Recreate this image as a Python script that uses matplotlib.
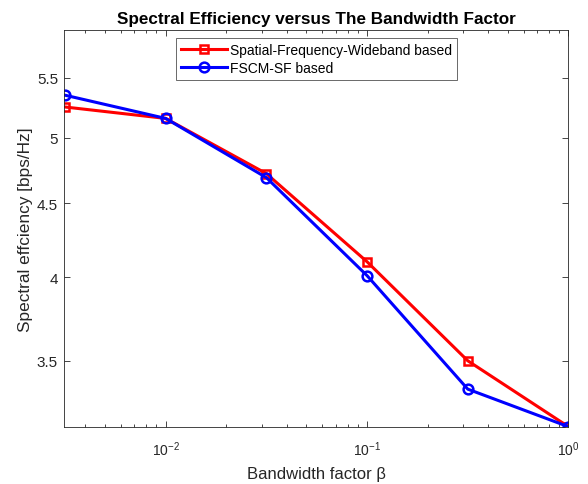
import matplotlib
matplotlib.use("Agg")
import matplotlib.pyplot as plt
from matplotlib.ticker import FixedLocator, FixedFormatter, NullLocator, LogLocator

plt.rcParams['font.family'] = ['Liberation Sans', 'DejaVu Sans']
plt.rcParams['axes.unicode_minus'] = False
plt.rcParams['mathtext.fontset'] = 'custom'
plt.rcParams['mathtext.rm'] = 'Liberation Sans'
plt.rcParams['mathtext.it'] = 'Liberation Sans:italic'
plt.rcParams['mathtext.bf'] = 'Liberation Sans:bold'

beta = [10**-2.5, 10**-2, 10**-1.5, 10**-1, 10**-0.5, 1.0]
sfw = [5.25, 5.155, 4.72, 4.10, 3.50, 3.15]
fscm = [5.35, 5.155, 4.69, 4.01, 3.345, 3.15]
yticks = [3.5, 4, 4.5, 5, 5.5]
ytick_labels = ['3.5', '4', '4.5', '5', '5.5']

fig = plt.figure(figsize=(5.88, 4.85), dpi=100)
ax = fig.add_axes([0.1094, 0.1181, 0.9668 - 0.1094, 0.9367 - 0.1181])

ax.plot(beta, sfw, color='#ff0000', lw=2.2, marker='s', ms=5.5, mfc='none',
        mec='#ff0000', mew=1.8, label='Spatial-Frequency-Wideband based')
ax.plot(beta, fscm, color='#0000ff', lw=2.2, marker='o', ms=7, mfc='none',
        mec='#0000ff', mew=1.8, label='FSCM-SF based')

ax.set_xscale('log')
ax.set_yscale('log')
ax.set_xlim(10**-2.503, 1.0)
ax.set_ylim(3.15, 5.94)

ax.yaxis.set_major_locator(FixedLocator(yticks))
ax.yaxis.set_major_formatter(FixedFormatter(ytick_labels))
ax.yaxis.set_minor_locator(NullLocator())
ax.xaxis.set_major_locator(LogLocator(base=10, numticks=10))
ax.xaxis.set_minor_locator(LogLocator(base=10, subs=range(2, 10), numticks=20))

gray = '#262626'
for s in ax.spines.values():
    s.set_color('#262626')
    s.set_linewidth(0.6)
ax.tick_params(which='both', direction='in', top=True, right=True,
               colors=gray, labelcolor=gray)
ax.tick_params(which='major', length=4.5, width=0.6)
ax.tick_params(which='minor', length=2.5, width=0.6)
ax.tick_params(axis='y', which='both', pad=4.5, labelsize=11)
ax.tick_params(axis='x', which='both', pad=9, labelsize=10)

ax.set_title('Spectral Efficiency versus The Bandwidth Factor', fontsize=12.3,
             fontweight='bold', pad=5)
ax.set_xlabel('Bandwidth factor β', fontsize=12, color=gray, labelpad=6)
ax.set_ylabel('Spectral effciency [bps/Hz]', fontsize=12.4, color=gray, labelpad=3)

leg = ax.legend(loc='upper center', bbox_to_anchor=(0.5, 0.979), fontsize=10,
                frameon=True, fancybox=False, edgecolor=gray, handlelength=3.3,
                borderpad=0.35, labelspacing=0.3, handletextpad=0.2, borderaxespad=0)
leg.get_frame().set_linewidth(0.6)

fig.savefig('out.png', dpi=100)
